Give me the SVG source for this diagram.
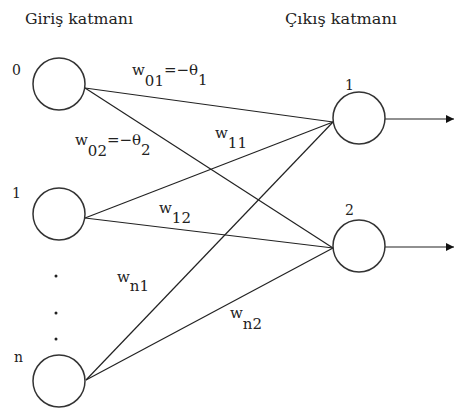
<svg xmlns="http://www.w3.org/2000/svg" width="454" height="408" viewBox="0 0 454 408">
<defs>
<style>
text{font-family:'DejaVu Serif','Liberation Serif',serif;fill:#222}
.n{fill:none;stroke:#333;stroke-width:1.5}
.c{stroke:#222;stroke-width:1.2;fill:none}
</style>
<marker id="ah" markerWidth="8" markerHeight="8" refX="8" refY="4" orient="auto" markerUnits="userSpaceOnUse">
<path d="M0,0 L8,4 L0,8 Z" fill="#111"/>
</marker>
</defs>
<rect width="454" height="408" fill="#fff"/>
<text x="25" y="24" font-size="15" textLength="108" lengthAdjust="spacingAndGlyphs">Giriş katmanı</text>
<text x="285" y="24" font-size="15" textLength="112" lengthAdjust="spacingAndGlyphs">Çıkış katmanı</text>
<g id="connectors">
<line class="c" x1="85" y1="88" x2="333" y2="122"/>
<line class="c" x1="85" y1="88" x2="333" y2="248"/>
<line class="c" x1="85" y1="218" x2="333" y2="122"/>
<line class="c" x1="85" y1="218" x2="333" y2="248"/>
<line class="c" x1="86" y1="380" x2="333" y2="122"/>
<line class="c" x1="86" y1="380" x2="333" y2="248"/>
<line class="c" x1="385" y1="119" x2="454" y2="119" marker-end="url(#ah)"/>
<line class="c" x1="385" y1="247" x2="454" y2="247" marker-end="url(#ah)"/>
</g>
<g id="in0"><circle class="n" cx="59" cy="84" r="26"/><text x="12" y="75" font-size="14">0</text></g>
<g id="in1"><circle class="n" cx="59" cy="214" r="26"/><text x="12" y="198" font-size="14">1</text></g>
<g id="inn"><circle class="n" cx="59" cy="381" r="26"/><text x="14" y="362" font-size="14">n</text></g>
<g id="dots">
<circle cx="56" cy="276" r="1.5" fill="#222"/>
<circle cx="56" cy="313" r="1.5" fill="#222"/>
<circle cx="56" cy="339" r="1.5" fill="#222"/>
</g>
<g id="out1"><circle class="n" cx="359" cy="118" r="26"/><text x="345" y="90" font-size="14">1</text></g>
<g id="out2"><circle class="n" cx="359" cy="246" r="26"/><text x="345" y="215" font-size="14">2</text></g>
<g id="labels" font-size="15">
<text x="132" y="75">w<tspan dy="11">01</tspan><tspan dy="-11">=−θ</tspan><tspan dy="10">1</tspan></text>
<text x="75" y="145">w<tspan dy="11">02</tspan><tspan dy="-11">=−θ</tspan><tspan dy="10">2</tspan></text>
<text x="215" y="138">w<tspan dy="10">11</tspan></text>
<text x="159" y="213">w<tspan dy="10">12</tspan></text>
<text x="117" y="282">w<tspan dy="9">n1</tspan></text>
<text x="230" y="318">w<tspan dy="11">n2</tspan></text>
</g>
</svg>
